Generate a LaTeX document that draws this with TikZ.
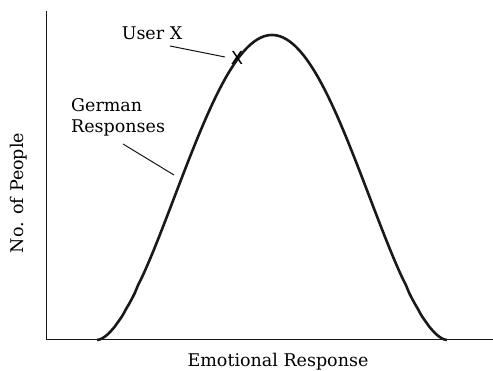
\documentclass[tikz,border=0pt]{standalone}
\usepackage{fontspec}
\setmainfont{DejaVu Serif}
\setsansfont{DejaVu Sans}
\usepackage{xcolor}
\usetikzlibrary{positioning}
\tikzset{
  axisline/.style={line width=1pt, draw=black!90},
  bellcurve/.style={line width=2.6pt, draw=black!90},
  leader/.style={line width=1pt, draw=black!90},
  plotlabel/.style={
    font=\fontsize{17.5}{21}\selectfont,
    inner sep=0pt,
    align=left,
    text=black
  },
  axislabel/.style={plotlabel, align=center},
  usermark/.style={font=\sffamily\fontsize{18}{18}\selectfont, inner sep=0pt, text=black}
}

\begin{document}
\begin{tikzpicture}[x=1pt, y=-1pt]
\useasboundingbox (0,0) rectangle (493,371);

% axes
\coordinate (ytop) at (46,11);
\coordinate (origin) at (46,340);
\coordinate (xend) at (493,340);
\draw[axisline] (ytop) -- (origin) -- (xend);

% response curve
\draw[bellcurve] plot[domain=-1:1, samples=121, smooth]
  ({272+175*\x}, {340-305*(max(0.00001,(1+cos(180*\x))/2))^0.85});

% labels
\node[plotlabel] (userx) at (152,33) {User X};
\node[usermark] (xmark) at (237,58) {X};
\node[plotlabel, anchor=west] (german) at (71,117) {German\\Responses};
\node[axislabel] (xlabel) at (278,362) {Emotional Response};
\node[axislabel, rotate=90] (ylabel) at (19,193) {No. of People};

% leaders
\coordinate (userfrom) at (170,46);
\coordinate (userto) at (225,57);
\coordinate (germanfrom) at (123,144);
\coordinate (germanto) at (174,175);
\draw[leader] (userfrom) -- (userto);
\draw[leader] (germanfrom) -- (germanto);
\end{tikzpicture}
\end{document}
